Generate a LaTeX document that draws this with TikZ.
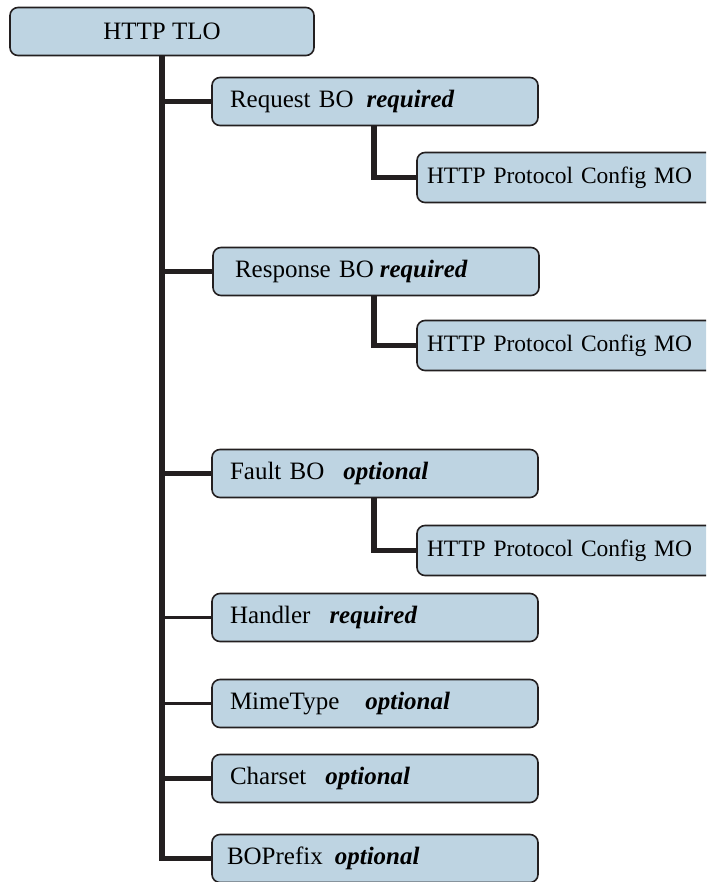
\documentclass[tikz,border=0pt]{standalone}
\usepackage{fontspec}
\setmainfont{Liberation Serif}
\usepackage{xcolor}
\usepackage{tikz}
\usetikzlibrary{shapes.geometric, arrows}
\definecolor{boxblue}{RGB}{190,212,226}
\definecolor{boxline}{RGB}{35,31,32}
\tikzstyle{tlo} = [rectangle, rounded corners=8pt,
minimum width=304pt,
minimum height=48pt,
text centered,
draw=boxline,
line width=1.6pt,
fill=boxblue,
font=\fontsize{25}{30}\selectfont]
\tikzstyle{bobox} = [rectangle, rounded corners=8pt,
minimum height=48pt,
text width=290pt,
inner xsep=18pt,
align=left,
draw=boxline,
line width=1.6pt,
fill=boxblue,
font=\fontsize{25}{30}\selectfont]
\tikzstyle{mobox} = [bobox, minimum height=50pt, text width=300pt, inner xsep=10pt,
font=\fontsize{23.5}{28}\selectfont]
\tikzstyle{thickline} = [line width=5.5pt, draw=boxline]
\tikzstyle{thinline} = [line width=2.2pt, draw=boxline]
\newcommand{\req}[1]{\textbf{\textit{#1}}}

\begin{document}
\begin{tikzpicture}
\useasboundingbox (0,0) rectangle (706pt,-882pt);
\clip (0,0) rectangle (706pt,-882pt);

\node (tlo) [tlo] at (162pt,-31.5pt) {HTTP TLO};
\node (request) [bobox, below of=tlo, node distance=70pt, xshift=213pt] {Request BO\hspace{13pt}\req{required}};
\node (mo1) [mobox, below of=request, node distance=76pt, xshift=202pt] {HTTP Protocol Config MO};
\node (response) [bobox, below of=request, node distance=170pt, xshift=1pt] {\hspace*{4pt}Response BO\hspace{6pt}\req{required}};
\node (mo2) [mobox, below of=response, node distance=74pt, xshift=201pt] {HTTP Protocol Config MO};
\node (fault) [bobox, below of=response, node distance=202pt, xshift=-1pt] {Fault BO\hspace{19pt}\req{optional}};
\node (mo3) [mobox, below of=fault, node distance=77pt, xshift=202pt] {HTTP Protocol Config MO};
\node (handler) [bobox, below of=fault, node distance=144pt] {Handler\hspace{19pt}\req{required}};
\node (mime) [bobox, below of=handler, node distance=86pt] {MimeType\hspace{26pt}\req{optional}};
\node (charset) [bobox, below of=mime, node distance=75pt] {Charset\hspace{19pt}\req{optional}};
\node (boprefix) [bobox, below of=charset, node distance=80pt] {\hspace*{-3pt}BOPrefix\hspace{12pt}\req{optional}};

% trunk and branches
\draw [thickline] (tlo.south) |- (boprefix.west);
\draw [thickline] (tlo.south |- request.west) -- (request.west);
\draw [thickline] (tlo.south |- response.west) -- (response.west);
\draw [thickline] (tlo.south |- fault.west) -- (fault.west);
\draw [thinline] (tlo.south |- handler.west) -- (handler.west);
\draw [thinline] (tlo.south |- mime.west) -- (mime.west);
\draw [thickline] (tlo.south |- charset.west) -- (charset.west);

\draw [thickline] ([xshift=163pt]request.south west) |- (mo1.west);
\draw [thickline] ([xshift=162pt]response.south west) |- (mo2.west);
\draw [thickline] ([xshift=163pt]fault.south west) |- (mo3.west);
\end{tikzpicture}
\end{document}
